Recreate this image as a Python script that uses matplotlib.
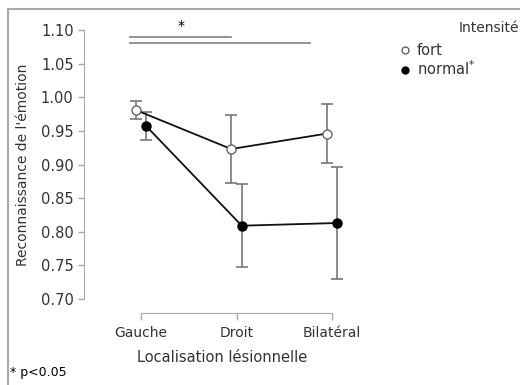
import matplotlib
matplotlib.use("Agg")
import matplotlib.pyplot as plt
from matplotlib.lines import Line2D
from matplotlib.patches import Rectangle
import numpy as np

categories = ["Gauche", "Droit", "Bilatéral"]
fort_mean = [0.981, 0.923, 0.946]
fort_err = [0.013, 0.051, 0.044]
normal_mean = [0.957, 0.809, 0.813]
normal_err = [0.021, 0.062, 0.083]
y_ticks = [0.70, 0.75, 0.80, 0.85, 0.90, 0.95, 1.00, 1.05, 1.10]

W, H = 520, 385
plt.rcParams["font.family"] = ["DejaVu Sans"]
fig = plt.figure(figsize=(W / 100, H / 100), dpi=100)

# axes placed in pixel terms
left, right, top, bottom = 84, 360, 30, 299
ax = fig.add_axes([left / W, 1 - bottom / H, (right - left) / W, (bottom - top) / H])

x = np.arange(len(categories))
dodge = 0.055
err_color = "#777777"
text_color = "#333333"

ax.errorbar(x - dodge, fort_mean, yerr=fort_err, fmt="none", ecolor=err_color,
            elinewidth=1.2, capsize=4, capthick=1.2, zorder=2)
ax.errorbar(x + dodge, normal_mean, yerr=normal_err, fmt="none", ecolor=err_color,
            elinewidth=1.2, capsize=4, capthick=1.2, zorder=2)
ax.plot(x - dodge, fort_mean, color="#111111", lw=1.3, marker="o", ms=6.5,
        mfc="white", mec="#666666", mew=1.0, zorder=3)
ax.plot(x + dodge, normal_mean, color="#111111", lw=1.3, marker="o", ms=6.5,
        mfc="black", mec="black", zorder=3)

ax.set_xlim((left - 141) / 95.5, (right - 141) / 95.5)
ax.set_ylim(0.70, 1.10)
ax.set_xticks(x)
ax.set_xticklabels(categories)
ax.set_yticks(y_ticks)
ax.set_yticklabels([f"{v:.2f}" for v in y_ticks])

for s in ["top", "right"]:
    ax.spines[s].set_visible(False)
ax.spines["left"].set_color("#aaaaaa")
ax.spines["bottom"].set_color("#aaaaaa")
ax.spines["left"].set_bounds(0.70, 1.10)
ax.spines["bottom"].set_bounds(0, 2)
ax.spines["bottom"].set_position(("outward", 10))
ax.tick_params(axis="y", length=4.5, width=1, color="#aaaaaa", labelsize=10.5,
               labelcolor=text_color, pad=3)
ax.tick_params(axis="x", length=5, width=1, color="#aaaaaa", labelsize=10,
               labelcolor=text_color, pad=4.5)

ax.set_ylabel("Reconnaissance de l'émotion", fontsize=10, color=text_color, labelpad=8)
ax.set_xlabel("Localisation lésionnelle", fontsize=10.5, color=text_color, labelpad=7)

# significance bars
ax.plot([-0.115, 0.94], [1.090, 1.090], color="#777777", lw=1.1, clip_on=False)
ax.plot([-0.115, 1.77], [1.081, 1.081], color="#777777", lw=1.1, clip_on=False)
ax.text(0.42, 1.096, "*", ha="center", va="bottom", fontsize=10, color="black")

# legend
handles = [
    Line2D([], [], ls="none", marker="o", ms=5, mfc="white", mec="#555555", mew=0.9),
    Line2D([], [], ls="none", marker="o", ms=5, mfc="black", mec="black"),
]
fig.legend(handles, ["fort", "normal$^{*}$"], loc="upper left",
           bbox_to_anchor=(401 / W, 1 - 43 / H), frameon=False, fontsize=10.5,
           handlelength=0.6, handletextpad=0.5, labelspacing=0.1,
           borderpad=0, borderaxespad=0, labelcolor=text_color)
fig.text(519 / W, 1 - 28 / H, "Intensité", ha="right", va="center",
         fontsize=10, color=text_color)

fig.text(10 / W, 1 - 376 / H, "* p<0.05", ha="left", va="baseline",
         fontsize=9, color="black")

# outer frame (cropped on right and bottom)
fig.patches.append(Rectangle((8 / W, -0.1), 1.2, 1.1 - 9 / H, transform=fig.transFigure,
                             fill=False, edgecolor="#aaaaaa", lw=1.5))

fig.savefig("out.png", dpi=100)
